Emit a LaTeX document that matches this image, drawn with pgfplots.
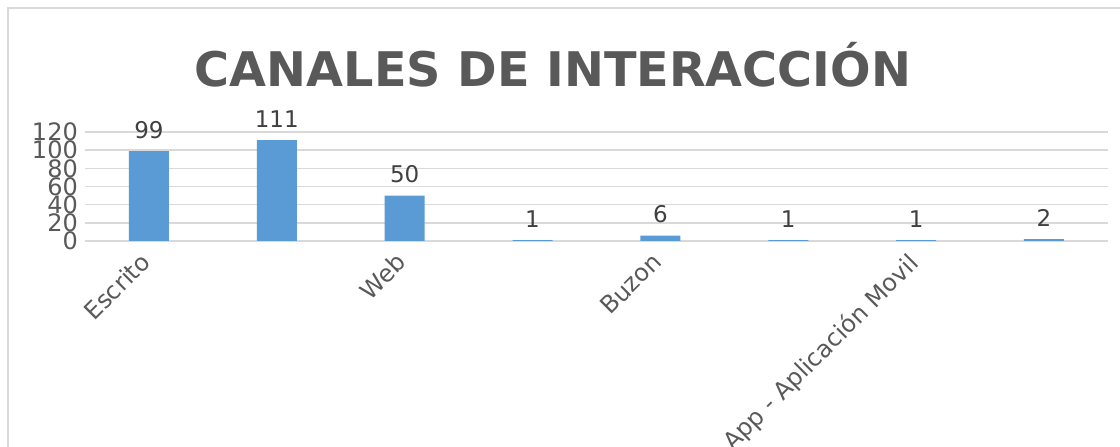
\documentclass[border=0pt]{standalone}
\usepackage{pgfplots}
\pgfplotsset{compat=1.18}
\usepackage{fontspec}
\setmainfont{DejaVu Sans}
\definecolor{barc}{HTML}{5B9BD5}
\definecolor{txt}{HTML}{595959}
\definecolor{lbl}{HTML}{404040}
\definecolor{gridc}{HTML}{D9D9D9}
\begin{document}
\begin{tikzpicture}[x=1bp,y=1bp]
\useasboundingbox (0,0) rectangle (1120,447);
\fill[white] (0,0) rectangle (1120,447);
\draw[gridc, line width=1.5bp] (8,-20) rectangle (1140,439);
\node[font=\fontsize{47.7bp}{57bp}\selectfont\bfseries, text=txt] at (553,382) {CANALES DE INTERACCIÓN};
\begin{axis}[
  at={(85bp,206bp)}, anchor=south west,
  scale only axis, width=1023bp, height=109bp,
  xmin=-0.5, xmax=7.5, ymin=0, ymax=120,
  ytick={0,20,...,120},
  xtick={0,2,4,6},
  xticklabels={Escrito,Web,Buzon,App - Aplicación Movil},
  axis line style={draw=none},
  ymajorgrids, xmajorgrids=false, grid style={draw=gridc, line width=1.5bp},
  major tick length=0pt,
  tick label style={font=\fontsize{24bp}{24bp}\selectfont, text=txt},
  /pgf/number format/assume math mode=true,
  yticklabel style={inner sep=1bp, xshift=-6bp},
  xticklabel style={rotate=45, anchor=north east, inner sep=1bp, yshift=1bp, xshift=-13bp},
  clip=false,
  nodes near coords,
  every node near coord/.append style={font=\fontsize{23bp}{23bp}\selectfont, text=lbl, yshift=9bp},
]
\addplot[ybar, bar width=40bp, fill=barc, draw=none] coordinates {(0,99) (1,111) (2,50) (3,1) (4,6) (5,1) (6,1) (7,2)};
\end{axis}
\end{tikzpicture}
\end{document}
